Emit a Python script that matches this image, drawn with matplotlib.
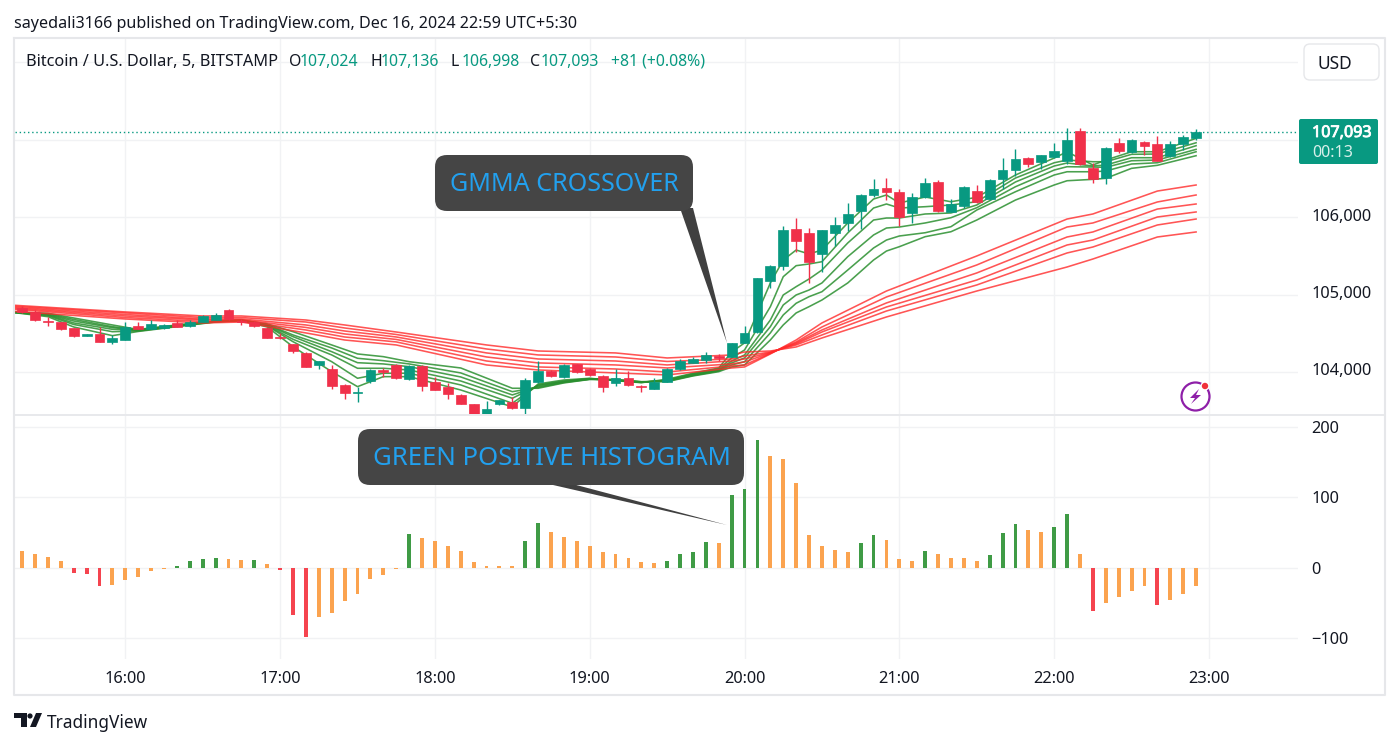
import matplotlib
matplotlib.use("Agg")  # no display here
import matplotlib.pyplot as plt
import matplotlib.patheffects as pe
from matplotlib.patches import Circle, FancyBboxPatch, Polygon
from matplotlib.transforms import ScaledTranslation

W, H = 1400, 746

# 5 minute BTC/USD candles, 15:20 to 22:55
opens = [
    104822, 104770, 104654, 104641, 104564, 104469, 104495, 104392, 104417, 104594,
    104559, 104563, 104628, 104589, 104645, 104675, 104800, 104662, 104641, 104568,
    104456, 104357, 104250, 104090, 104043, 103837, 103729, 103888, 104026, 104090,
    103910, 104078, 103867, 103811, 103704, 103583, 103458, 103587, 103618, 103532,
    103871, 104013, 103940, 104099, 104035, 103949, 103854, 103918, 103824, 103785,
    103875, 104035, 104121, 104151, 104202, 104198, 104379, 104516, 105178, 105372,
    105841, 105793, 105518, 105793, 105927, 106077, 106279, 106374, 106322, 106051,
    106262, 106456, 106068, 106142, 106335, 106228, 106494, 106606, 106761, 106705,
    106774, 106722, 107109, 106632, 106499, 106954, 106838, 106967, 106941, 106787,
    106941, 107024,
]
highs = [
    104852, 104800, 104705, 104650, 104572, 104495, 104585, 104478, 104641, 104641,
    104671, 104615, 104671, 104671, 104731, 104766, 104813, 104680, 104662, 104576,
    104508, 104366, 104258, 104146, 104090, 103845, 103811, 104035, 104048, 104099,
    104090, 104086, 103931, 103863, 103712, 103592, 103630, 103643, 103682, 103919,
    104142, 104022, 104108, 104108, 104052, 103957, 104039, 104009, 103832, 103918,
    104048, 104164, 104189, 104254, 104228, 104379, 104594, 105217, 105376, 105888,
    105991, 105853, 105836, 105995, 106176, 106292, 106494, 106503, 106357, 106305,
    106503, 106477, 106228, 106395, 106413, 106490, 106761, 106873, 106769, 106804,
    106959, 107144, 107144, 106692, 106898, 107015, 107006, 106976, 107040, 106976,
    107058, 107136,
]
lows = [
    104766, 104662, 104594, 104542, 104456, 104465, 104383, 104357, 104413, 104551,
    104555, 104555, 104576, 104585, 104641, 104667, 104675, 104611, 104576, 104434,
    104430, 104250, 104060, 104043, 103785, 103648, 103618, 103863, 103940, 103910,
    103901, 103759, 103768, 103656, 103583, 103450, 103454, 103579, 103519, 103458,
    103863, 103931, 103918, 103983, 103949, 103742, 103820, 103820, 103742, 103777,
    103867, 104026, 104112, 104112, 104146, 104189, 104370, 104508, 105079, 105316,
    105552, 105144, 105295, 105626, 105823, 105845, 106258, 106219, 105884, 105918,
    106241, 106064, 106060, 106116, 106176, 106219, 106361, 106533, 106649, 106623,
    106765, 106683, 106675, 106443, 106425, 106821, 106830, 106800, 106718, 106778,
    106864, 106998,
]
closes = [
    104778, 104671, 104641, 104551, 104465, 104490, 104392, 104434, 104576, 104559,
    104615, 104602, 104585, 104650, 104723, 104735, 104684, 104645, 104598, 104443,
    104443, 104271, 104069, 104138, 103820, 103725, 103738, 104026, 104004, 103919,
    104082, 103824, 103772, 103716, 103592, 103458, 103523, 103635, 103532, 103897,
    104013, 103949, 104090, 103996, 103957, 103802, 103918, 103837, 103802, 103875,
    104035, 104142, 104168, 104219, 104176, 104370, 104499, 105208, 105368, 105828,
    105686, 105423, 105828, 105896, 106043, 106284, 106361, 106318, 106004, 106258,
    106443, 106081, 106167, 106387, 106193, 106481, 106606, 106744, 106683, 106795,
    106847, 106989, 106683, 106486, 106890, 106851, 106989, 106911, 106726, 106937,
    107027, 107093,
]

# short GMMA group, vertices taken at these bars
short_bars = [
    -1, 2, 4, 7, 9, 12, 15, 17, 19, 21, 24, 26, 28, 30, 34, 38, 40, 42, 44, 46, 48, 50, 52,
    54, 55, 56, 58, 59, 60, 61, 62, 64, 66, 67, 68, 70, 72, 74, 77, 80, 81, 83, 84, 86, 88, 91,
]
short_ma1 = [
    104774, 104714, 104581, 104469, 104523, 104585, 104645, 104662, 104581, 104327, 104004, 103811,
    103940, 103940, 103768, 103549, 103846, 103897, 103919, 103888, 103862, 103906, 103984,
    104052, 104258, 104375, 105149, 105445, 105574, 105523, 105574, 105923, 106232, 106284,
    106181, 106258, 106197, 106254, 106542, 106761, 106842, 106671, 106735, 106842, 106842, 107015,
]
short_ma2 = [
    104774, 104727, 104613, 104520, 104529, 104590, 104648, 104665, 104594, 104391, 104133, 103919,
    103984, 103984, 103833, 103597, 103833, 103884, 103915, 103891, 103865, 103897, 103975,
    104039, 104181, 104284, 104843, 105230, 105372, 105394, 105423, 105794, 106116, 106168,
    106116, 106133, 106155, 106197, 106503, 106700, 106735, 106713, 106713, 106809, 106813, 106958,
]
short_ma3 = [
    104774, 104736, 104633, 104551, 104536, 104594, 104651, 104666, 104600, 104422, 104220, 104048,
    104048, 104026, 103884, 103661, 103826, 103878, 103911, 103893, 103869, 103891, 103966,
    104026, 104142, 104220, 104671, 104994, 105101, 105200, 105316, 105665, 105961, 105987,
    105987, 106039, 106052, 106155, 106452, 106658, 106697, 106658, 106671, 106765, 106765, 106920,
]
short_ma4 = [
    104774, 104742, 104658, 104572, 104540, 104598, 104653, 104667, 104607, 104456, 104262, 104120,
    104104, 104069, 103936, 103704, 103813, 103871, 103909, 103896, 103871, 103886, 103959,
    104020, 104117, 104181, 104585, 104865, 104994, 105058, 105149, 105488, 105768, 105858,
    105871, 105923, 105991, 106120, 106391, 106606, 106649, 106645, 106641, 106726, 106735, 106873,
]
short_ma5 = [
    104774, 104749, 104678, 104585, 104542, 104603, 104656, 104669, 104613, 104478, 104310, 104177,
    104146, 104104, 103988, 103746, 103801, 103865, 103906, 103897, 103874, 103881, 103954,
    104013, 104091, 104133, 104504, 104736, 104887, 104972, 105036, 105316, 105600, 105703,
    105755, 105797, 105875, 106090, 106326, 106542, 106584, 106584, 106593, 106684, 106700, 106842,
]
short_ma6 = [
    104774, 104758, 104697, 104607, 104549, 104607, 104658, 104671, 104620, 104520, 104349, 104233,
    104198, 104133, 104052, 103790, 103790, 103859, 103904, 103906, 103875, 103875, 103949,
    104004, 104065, 104091, 104413, 104607, 104762, 104843, 104929, 105149, 105445, 105561,
    105617, 105746, 105810, 105961, 106219, 106413, 106468, 106486, 106499, 106628, 106667, 106791,
]

# long GMMA group
long_bars = [-1, 8, 14, 17, 22, 25, 29, 36, 40, 46, 50, 55, 56, 58, 59, 60, 62, 67, 74, 81, 83, 88, 91]
long_ma1 = [
    104787, 104684, 104633, 104645, 104504, 104413, 104349, 104091, 104026, 103988, 103962, 104052,
    104065, 104233, 104323, 104413, 104633, 105045, 105497, 105974, 106039, 106335, 106413,
]
long_ma2 = [
    104813, 104703, 104652, 104658, 104542, 104452, 104388, 104142, 104065, 104039, 104000, 104078,
    104091, 104239, 104317, 104388, 104581, 104968, 105381, 105871, 105923, 106194, 106284,
]
long_ma3 = [
    104826, 104723, 104671, 104671, 104575, 104491, 104420, 104194, 104117, 104091, 104052, 104104,
    104130, 104246, 104310, 104375, 104542, 104891, 105278, 105742, 105807, 106103, 106168,
]
long_ma4 = [
    104839, 104742, 104684, 104684, 104607, 104529, 104452, 104246, 104168, 104142, 104091, 104142,
    104168, 104252, 104310, 104362, 104516, 104839, 105187, 105639, 105703, 106000, 106065,
]
long_ma5 = [
    104852, 104762, 104703, 104703, 104645, 104568, 104484, 104297, 104220, 104194, 104136, 104168,
    104207, 104258, 104304, 104349, 104478, 104787, 105123, 105536, 105613, 105897, 105974,
]
long_ma6 = [
    104865, 104775, 104723, 104723, 104671, 104607, 104516, 104349, 104271, 104246, 104181, 104220,
    104258, 104271, 104297, 104323, 104439, 104710, 105045, 105355, 105458, 105742, 105807,
]

# MACD histogram, one value per candle
hist = [
    24, 19, 15, 10, -8, -9, -26, -25, -18, -13, -4, -2, 2, 9.5, 12, 14, 12, 10.5, 11, 5,
    -3, -67, -98, -70, -65, -48, -38, -16, -11, -2, 48, 42, 38, 31, 24, 8, 3, 3, 2, 38,
    63, 51, 43, 38, 31, 23, 19, 14, 8, 7, 9, 19, 23, 36, 35, 103, 112, 182, 158, 155,
    121, 47, 31, 25, 23, 35, 47, 39, 12, 9.5, 24, 19, 14, 14, 10, 18, 49, 62, 53, 51,
    58, 76, 19, -61, -50, -42, -33, -26, -53, -45.5, -37, -26,
]

time_bars = [8, 20, 32, 44, 56, 68, 80, 92]
time_labels = ["16:00", "17:00", "18:00", "19:00", "20:00", "21:00", "22:00", "23:00"]
price_ticks = [104000, 105000, 106000, 107000, 108000]
price_labels = ["104,000", "105,000", "106,000", "", ""]
hist_ticks = [-100, 0, 100, 200]
hist_labels = ["−100", "0", "100", "200"]

UP = "#089981"
DOWN = "#f0304a"
GRID = "#f1f2f4"
BORDER = "#e6e7ea"
INK = "#131722"
CALLOUT_INK = "#22a0ee"
FONT = ["Noto Sans", "DejaVu Sans"]

plt.rcParams["font.family"] = FONT


def pane(left, top, right, bottom):
    ax = fig.add_axes([left / W, 1 - bottom / H, (right - left) / W, (bottom - top) / H])
    for side in ax.spines.values():
        side.set_visible(False)
    ax.set_xlim(-0.55, 98.9)
    ax.set_xticks(time_bars)
    ax.grid(True, color=GRID, linewidth=1.0)
    ax.set_axisbelow(True)
    ax.yaxis.tick_right()
    ax.tick_params(length=0, labelsize=11.8, labelcolor=INK)
    ax.tick_params(axis="y", pad=9.5)
    return ax


def hist_color(i):
    prev = hist[i - 1] if i else hist[i]
    if hist[i] >= 0:
        return "#3f9b45" if hist[i] > prev else "#fba34f"
    return "#f5444f" if hist[i] < prev else "#fba34f"


def callout(ax, box, tail):
    x0, y0, x1, y1 = box
    r = 12
    ax.add_patch(Polygon(tail, closed=True, facecolor="#404040", edgecolor="none", zorder=5))
    ax.add_patch(FancyBboxPatch((x0 + r, y0 + r), x1 - x0 - 2 * r, y1 - y0 - 2 * r,
                                boxstyle=f"round,pad={r},rounding_size={r}",
                                facecolor="#454545", edgecolor="none", zorder=6))


fig = plt.figure(figsize=(W / 100, H / 100), dpi=100, facecolor="white")

# price pane
ax = pane(15, 39, 1298, 414)
ax.set_ylim(103458, 108297)
ax.set_yticks(price_ticks, price_labels)
ax.set_xticklabels([])
# axis labels sit a little above their gridlines here
for tick_label in ax.get_yticklabels():
    tick_label.set_transform(tick_label.get_transform() + ScaledTranslation(0, 2.5 / 100, fig.dpi_scale_trans))

for vals in [short_ma1, short_ma2, short_ma3, short_ma4, short_ma5, short_ma6]:
    ax.plot(short_bars, vals, color="#2a8f2f", linewidth=1.15, alpha=0.85, zorder=2)
for vals in [long_ma1, long_ma2, long_ma3, long_ma4, long_ma5, long_ma6]:
    ax.plot(long_bars, vals, color="#ff2a2a", linewidth=1.15, alpha=0.8, zorder=2)

bars = list(range(len(opens)))
colors = [UP if c >= o else DOWN for o, c in zip(opens, closes)]
ax.vlines(bars, lows, highs, colors=colors, linewidth=1.0, zorder=3)
ax.bar(bars, [abs(c - o) for o, c in zip(opens, closes)], bottom=[min(o, c) for o, c in zip(opens, closes)],
       width=0.76, color=colors, edgecolor=colors, linewidth=0.5, zorder=4)
ax.axhline(closes[-1], color=UP, linewidth=1.0, linestyle=(0, (1, 2)), zorder=1)

# histogram pane
ax2 = pane(15, 416, 1298, 659)
ax2.set_ylim(-129.7, 215.5)
ax2.set_yticks(hist_ticks, hist_labels)
ax2.set_xticklabels(time_labels)
ax2.tick_params(axis="x", pad=8.5)
ax2.bar(range(len(hist)), hist, width=0.3, color=[hist_color(i) for i in range(len(hist))], zorder=3)

# everything else sits on a full-figure layer measured in pixels
top = fig.add_axes([0, 0, 1, 1], facecolor="none")
top.set_xlim(0, W)
top.set_ylim(H, 0)
top.axis("off")

top.plot([14, 1385, 1385, 14, 14], [38, 38, 695, 695, 38], color=BORDER, linewidth=1.5)
top.plot([15, 1385], [415, 415], color=BORDER, linewidth=1.3)

top.text(14, 24, "sayedali3166 published on TradingView.com, Dec 16, 2024 22:59 UTC+5:30",
         fontsize=11.6, color=INK, va="center")
top.text(26, 62, "Bitcoin / U.S. Dollar, 5, BITSTAMP", fontsize=11.75, color=INK, va="center")
for x, label, value in [(289, "O", "107,024"), (370, "H", "107,136"), (451, "L", "106,998"), (530, "C", "107,093")]:
    top.text(x, 62, label, fontsize=11.4, color=INK, va="center")
    top.text(x + 11, 62, value, fontsize=11.4, color=UP, va="center")
top.text(611, 62, "+81 (+0.08%)", fontsize=11.4, color=UP, va="center")

# currency button and last price tag
top.add_patch(FancyBboxPatch((1310, 50), 63, 24, boxstyle="round,pad=6,rounding_size=6",
                             facecolor="white", edgecolor=BORDER, linewidth=1.0))
top.text(1335, 64, "USD", fontsize=12.5, color=INK, ha="center", va="center")
top.add_patch(FancyBboxPatch((1300, 120), 77, 43, boxstyle="round,pad=1,rounding_size=2",
                             facecolor=UP, edgecolor="none"))
top.text(1312, 133, "107,093", fontsize=11.6, color="white", va="center",
         path_effects=[pe.withStroke(linewidth=0.6, foreground="white")])
top.text(1312, 153, "00:13", fontsize=11.6, color="#d8f0ea", va="center")

# assistant badge
top.add_patch(Circle((1195.5, 396.5), 14, facecolor="white", edgecolor="#8e1fa8", linewidth=1.6))
top.add_patch(Polygon([(1199, 389), (1190, 398), (1195, 398), (1191, 404), (1201, 395), (1196, 395)],
                      closed=True, facecolor="#8e1fa8", edgecolor="none"))
top.add_patch(Circle((1205, 386), 4.5, facecolor="white", edgecolor="none"))
top.add_patch(Circle((1205, 386), 3.2, facecolor="#f0303a", edgecolor="none"))

# callouts
callout(top, (435, 155, 693, 211), [(680, 208), (693, 208), (727, 343)])
top.text(564, 184.5, "GMMA CROSSOVER", fontsize=18.1, color=CALLOUT_INK, ha="center", va="center", zorder=7)
callout(top, (358, 429, 744, 485), [(540, 482), (565, 482), (727, 525)])
top.text(551.5, 458.5, "GREEN POSITIVE HISTOGRAM", fontsize=18.5, color=CALLOUT_INK, ha="center", va="center", zorder=7)

# wordmark
top.add_patch(Polygon([(14, 713), (27, 713), (27, 727), (21, 727), (21, 718), (14, 718)],
                      closed=True, facecolor=INK, edgecolor="none"))
top.add_patch(Circle((30, 716), 2.6, facecolor=INK, edgecolor="none"))
top.add_patch(Polygon([(36, 713), (42, 713), (36, 727), (30, 727)], closed=True, facecolor=INK, edgecolor="none"))
top.text(47, 723.5, "TradingView", fontsize=12.4, color=INK, va="center")

fig.savefig("out.png", dpi=100)
plt.close(fig)
